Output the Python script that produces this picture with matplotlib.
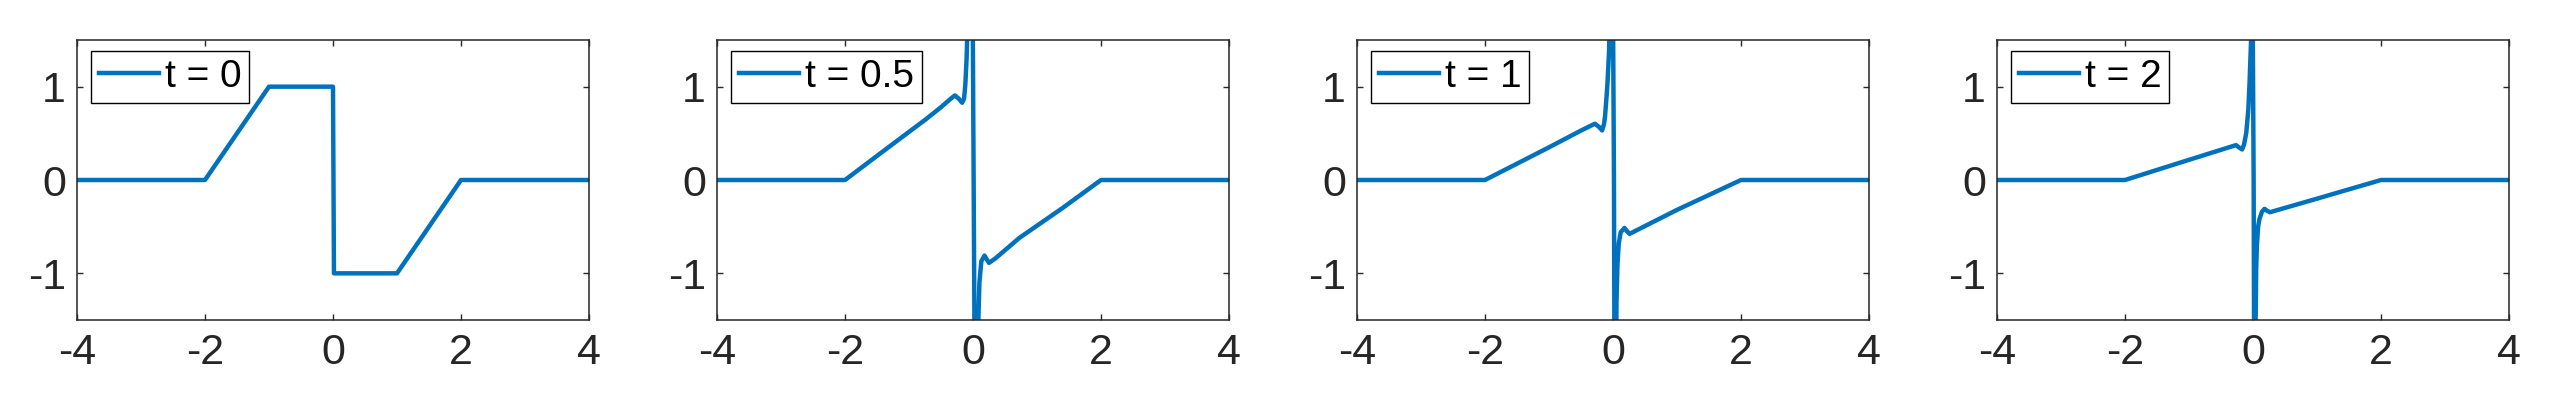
import matplotlib
matplotlib.use("Agg")
import matplotlib.pyplot as plt

# ---- data ----
labels = ["t = 0", "t = 0.5", "t = 1", "t = 2"]

x_t0 = [-4, -2, -1, 0, 0.015, 1, 2, 4]
y_t0 = [0, 0, 1, 1, -1, -1, 0, 0]

x_t05 = [-4, -2, -1.4, -0.74, -0.5, -0.35, -0.283, -0.22, -0.17, -0.14, -0.12, -0.1,
         -0.08, -0.05, -0.03, 0.01, 0.05, 0.065, 0.08, 0.1, 0.13, 0.18, 0.215, 0.25,
         0.35, 0.725, 1.4, 2, 4]
y_t05 = [0, 0, 0.31, 0.649, 0.78, 0.87, 0.906, 0.87, 0.828, 0.87, 1.02, 1.3,
         1.8, 3.5, 5.0, 0.0, -5.0, -3.0, -1.6, -1.1, -0.87, -0.81, -0.85, -0.888,
         -0.84, -0.62, -0.3, 0, 0]

x_t1 = [-4, -2, -1, -0.5, -0.283, -0.22, -0.17, -0.14, -0.124, -0.1, -0.086, -0.06,
        -0.04, -0.025, 0.015, 0.035, 0.045, 0.055, 0.07, 0.09, 0.12, 0.18, 0.22,
        0.259, 1, 2, 4]
y_t1 = [0, 0, 0.35, 0.53, 0.603, 0.57, 0.531, 0.6, 0.685, 0.9, 1.04, 1.4,
        2.5, 5.0, 0.0, -5.0, -2.2, -1.3, -0.9, -0.68, -0.56, -0.513, -0.55,
        -0.577, -0.32, 0, 0]

x_t2 = [-4, -2, -1, -0.265, -0.22, -0.17, -0.14, -0.105, -0.073, -0.054, -0.03,
        -0.015, 0.01, 0.03, 0.04, 0.05, 0.061, 0.08, 0.1, 0.14, 0.18, 0.22, 0.266,
        1, 2, 4]
y_t2 = [0, 0, 0.216, 0.374, 0.35, 0.327, 0.38, 0.506, 0.756, 1.04, 1.5,
        3.0, 0.0, -5.0, -1.6, -0.95, -0.7, -0.5, -0.42, -0.34, -0.309, -0.33, -0.345,
        -0.2, 0, 0]

series = [(x_t0, y_t0), (x_t05, y_t05), (x_t1, y_t1), (x_t2, y_t2)]
xticks = [-4, -2, 0, 2, 4]
yticks = [-1, 0, 1]
ytick_labels = ["-1", "0", "1"]
xtick_labels = ["-4", "-2", "0", "2", "4"]

# ---- style ----
plt.rcParams["font.family"] = ["Liberation Sans", "DejaVu Sans"]
line_color = "#0072BD"
axis_color = "#262626"

W, H = 2560, 400
fig = plt.figure(figsize=(W / 100, H / 100), dpi=100)

ax_left = [77, 717, 1357, 1997]
ax_w, ax_h = 512, 280
ax_bottom = 400 - 320

for i, (xs, ys) in enumerate(series):
    ax = fig.add_axes([ax_left[i] / W, ax_bottom / H, ax_w / W, ax_h / H])
    ax.plot(xs, ys, color=line_color, lw=3.2, label=labels[i],
            solid_joinstyle="round")
    ax.set_xlim(-4, 4)
    ax.set_ylim(-1.5, 1.5)
    ax.set_xticks(xticks)
    ax.set_xticklabels(xtick_labels)
    ax.set_yticks(yticks)
    ax.set_yticklabels(ytick_labels)
    ax.tick_params(direction="in", top=True, right=True, length=4.5, width=1.0,
                   color=axis_color, labelcolor=axis_color, labelsize=31)
    ax.tick_params(axis="y", pad=8)
    ax.tick_params(axis="x", pad=9)
    for s in ax.spines.values():
        s.set_color(axis_color)
        s.set_linewidth(1.1)
    leg = ax.legend(loc="upper left", bbox_to_anchor=(14 / ax_w, 1 - 11 / ax_h),
                    borderaxespad=0, fontsize=28, handlelength=1.55,
                    handletextpad=0.15, borderpad=0.2, fancybox=False,
                    framealpha=1, edgecolor="black")
    leg.get_frame().set_linewidth(1.0)

fig.savefig("out.png", dpi=100)
